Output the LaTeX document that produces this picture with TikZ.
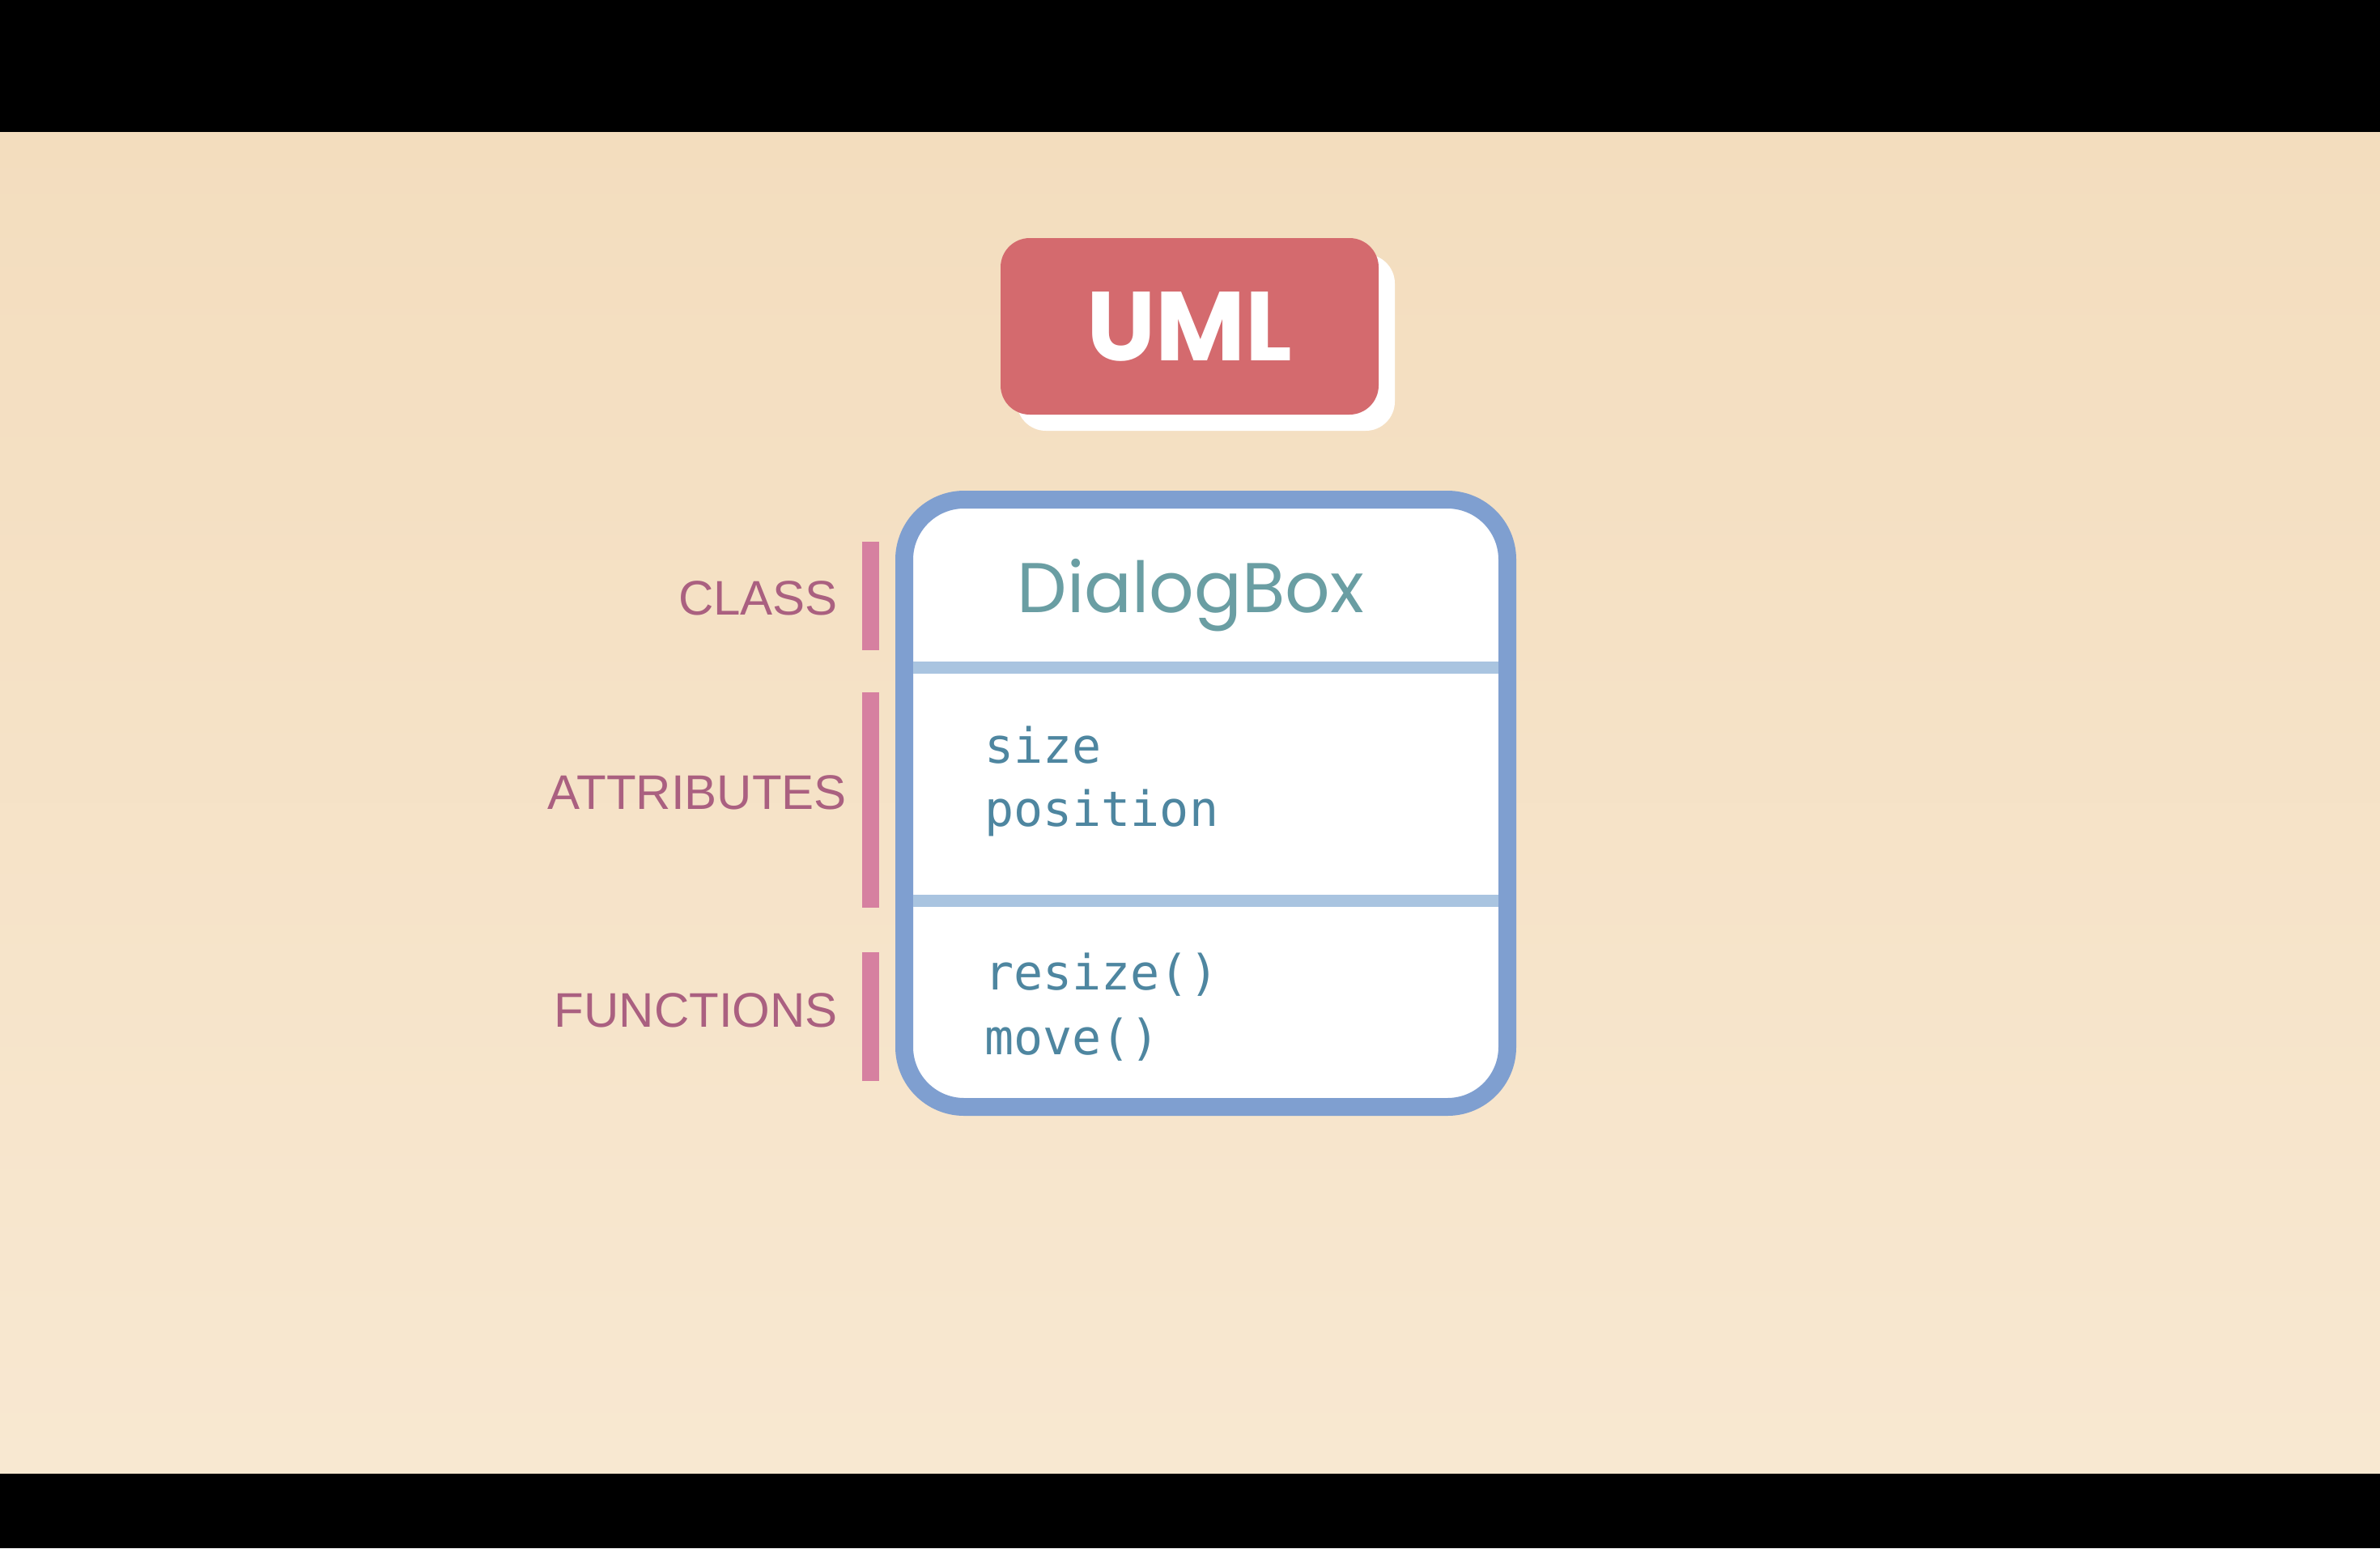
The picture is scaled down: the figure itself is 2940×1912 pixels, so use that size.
\documentclass[tikz,border=0pt]{standalone}
\usepackage{fontspec}
\newfontfamily\labfont{Liberation Sans}
\newfontfamily\cmono{DejaVu Sans Mono}
\newfontfamily\popfont{Poppins}
\definecolor{bgtop}{RGB}{243,221,190}
\definecolor{bgbot}{RGB}{248,232,209}
\definecolor{umlred}{RGB}{212,106,110}
\definecolor{boxblue}{RGB}{127,159,208}
\definecolor{seplight}{RGB}{169,196,224}
\definecolor{titleteal}{RGB}{106,158,163}
\definecolor{monoblue}{RGB}{78,134,160}
\definecolor{barpink}{RGB}{214,128,160}
\definecolor{labmauve}{RGB}{170,96,128}
\begin{document}
\begin{tikzpicture}[x=1pt,y=-1pt,
  umlbox/.style={fill=umlred, rounded corners=36pt, minimum width=467pt, minimum height=218pt,
    inner sep=0pt, text=white, font=\popfont\bfseries\fontsize{121}{122}\selectfont},
  classbox/.style={draw=boxblue, line width=22pt, fill=white, rounded corners=74pt,
    minimum width=745pt, minimum height=750pt, inner sep=0pt},
  seprule/.style={draw=seplight, line width=15pt},
  sidelabel/.style={anchor=base east, inner sep=0pt, text=labmauve,
    font=\labfont\fontsize{60}{60}\selectfont},
  sidebar/.style={fill=barpink, draw=none},
  membertext/.style={anchor=base west, inner sep=0pt, text=monoblue,
    font=\cmono\fontsize{60}{60}\selectfont},
  titletext/.style={anchor=base, inner sep=0pt, text=titleteal,
    font=\popfont\fontsize{87}{87}\selectfont}
]
\useasboundingbox (0,0) rectangle (2940,1912);
% background
\fill[black] (0,0) rectangle (2940,163);
\fill[black] (0,1819) rectangle (2940,1912);
\shade[top color=bgtop, bottom color=bgbot] (0,163) rectangle (2940,1819);

% UML title with white offset shadow
\fill[white, rounded corners=36pt] (1256,314) rectangle (1723,532);
\node[umlbox] (uml) at (1469.5,403) {UML};

% class box
\node[classbox] (cls) at (1489.5,992) {};
\coordinate (s1l) at (1128,824);
\coordinate (s1r) at (1851,824);
\coordinate (s2l) at (1128,1112);
\coordinate (s2r) at (1851,1112);
\draw[seprule] (s1l) -- (s1r);
\draw[seprule] (s2l) -- (s2r);

\node[titletext] (title) at (1471,756) {DialogBox};
\node[membertext] (attr1) at (1216,942) {size};
\node[membertext] (attr2) at (1216,1020) {position};
\node[membertext] (fun1) at (1216,1222) {resize()};
\node[membertext] (fun2) at (1216,1302) {move()};

% side labels and bars
\node[sidelabel] (lclass) at (1035,759) {CLASS};
\node[sidelabel] (lattr) at (1046,999) {ATTRIBUTES};
\node[sidelabel] (lfun) at (1035,1268) {FUNCTIONS};
\fill[sidebar] (1065,669) rectangle (1086,803);
\fill[sidebar] (1065,855) rectangle (1086,1121);
\fill[sidebar] (1065,1176) rectangle (1086,1335);
\end{tikzpicture}
\end{document}
